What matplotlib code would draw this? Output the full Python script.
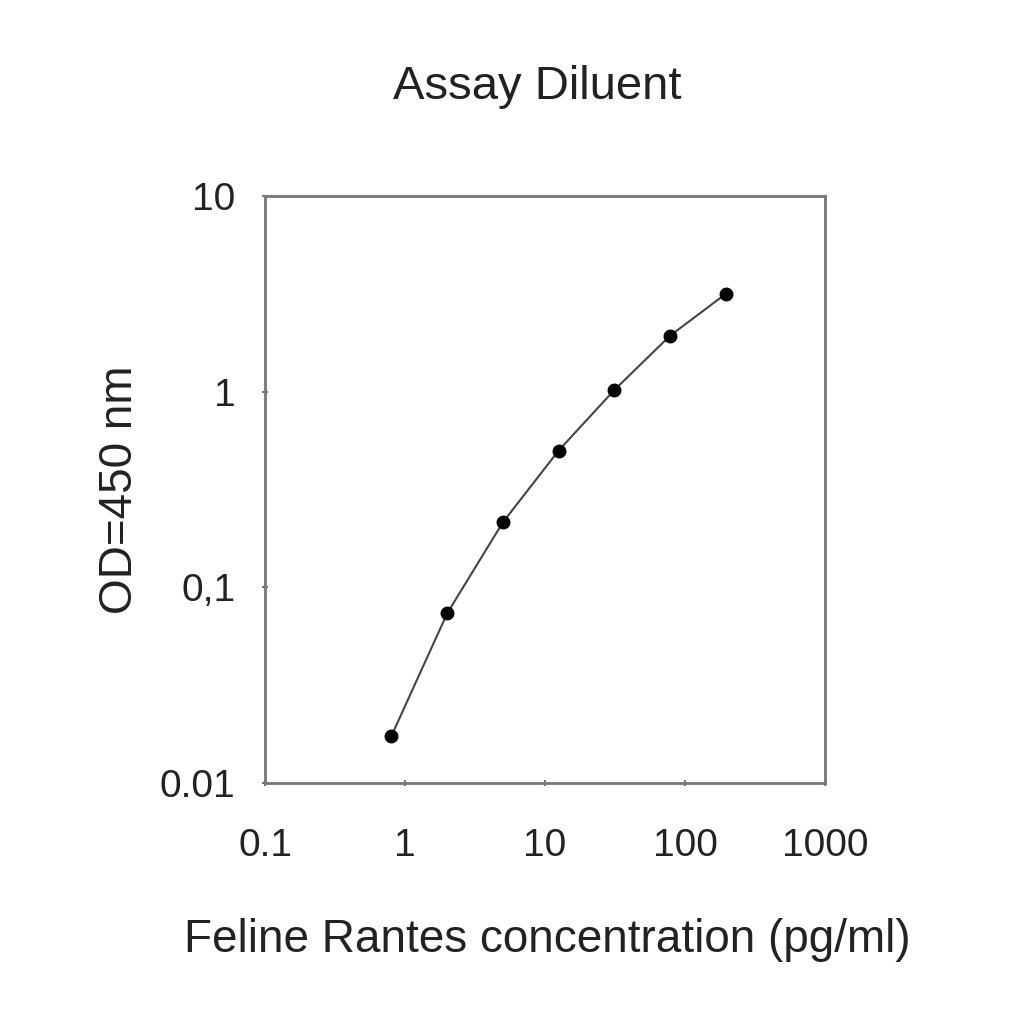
import matplotlib
matplotlib.use("Agg")
import matplotlib.pyplot as plt
from matplotlib.ticker import FixedLocator, FixedFormatter, NullLocator

plt.rcParams['font.family'] = ['Liberation Sans', 'DejaVu Sans']

concentration = [0.8, 2.0, 5.0, 12.5, 31.25, 78.0, 195.0]
od450 = [0.0174, 0.0736, 0.215, 0.50, 1.02, 1.93, 3.16]

x_ticks = [0.1, 1, 10, 100, 1000]
x_labels = ["0.1", "1", "10", "100", "1000"]
y_ticks = [0.01, 0.1, 1, 10]
y_labels = ["0.01", "0,1", "1", "10"]

fig = plt.figure(figsize=(10.24, 10.24), dpi=100)
ax = fig.add_axes([0.2588, 0.2354, 0.547, 0.5732])
ax.plot(concentration, od450, color='#444444', lw=1.5, marker='o',
        markersize=9, markerfacecolor='black', markeredgecolor='black')
ax.set_xscale('log')
ax.set_yscale('log')
ax.set_xlim(0.1, 1000)
ax.set_ylim(0.01, 10)
ax.xaxis.set_major_locator(FixedLocator(x_ticks))
ax.xaxis.set_major_formatter(FixedFormatter(x_labels))
ax.yaxis.set_major_locator(FixedLocator(y_ticks))
ax.yaxis.set_major_formatter(FixedFormatter(y_labels))
ax.xaxis.set_minor_locator(NullLocator())
ax.yaxis.set_minor_locator(NullLocator())
for s in ax.spines.values():
    s.set_color('#777777')
    s.set_linewidth(2)
ax.tick_params(axis='both', which='major', direction='inout', length=5,
               width=1.5, color='#777777', labelsize=28, labelcolor='#222222')
ax.tick_params(axis='x', pad=30)
ax.tick_params(axis='y', pad=19)

ax.set_xlabel("Feline Rantes concentration (pg/ml)", fontsize=33, color='#222222')
ax.xaxis.set_label_coords(0.504, -0.267)
ax.xaxis.label.set_va('center')
ax.set_ylabel("OD=450 nm", fontsize=33, color='#222222')
ax.yaxis.set_label_coords(-0.259, 0.499)
ax.yaxis.label.set_va('center')
ax.yaxis.label.set_ha('center')
fig.text(537 / 1024, 1 - 87 / 1024, "Assay Diluent", fontsize=34,
         ha='center', va='center', color='#222222')
fig.savefig("out.png", dpi=100)
